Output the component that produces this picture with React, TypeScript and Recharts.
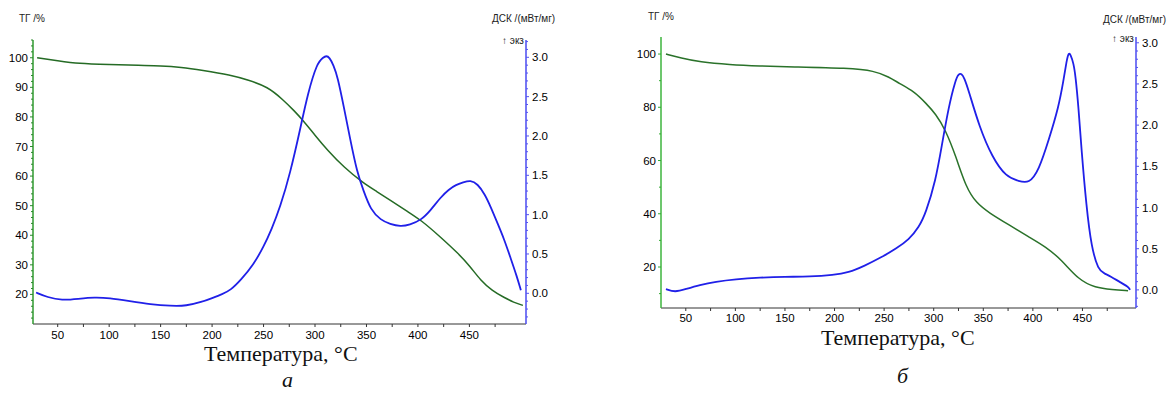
import { LineChart, Line, XAxis, YAxis } from 'recharts'

// panel a: TG (%) and DSC (mW/mg) vs temperature
const tgATemp = [30, 50, 70, 100, 130, 150, 170, 190, 218, 235, 254, 269, 280, 288, 300, 312, 328, 347, 360, 373, 390, 403, 420, 439, 450, 461, 472, 484, 493, 502]
const tgAVal = [100, 99, 98, 97.7, 97.4, 97.3, 96.8, 95.8, 94.2, 92.5, 90.2, 85.8, 82, 79, 73.8, 68.8, 63, 57.6, 54.8, 51.9, 48, 45.1, 40, 33.9, 29.8, 24.7, 21.3, 18.9, 17.3, 16.3]
const dscATemp = [29, 40, 54, 70, 86, 100, 120, 140, 160, 175, 190, 200, 210, 218, 228, 240, 250, 258, 266, 276, 286, 293, 302, 308, 311, 314, 318, 322, 328, 334, 341, 347, 354, 364, 373, 383, 392, 403, 412, 422, 430, 437, 444, 451, 458, 465, 471, 477, 484, 490, 496, 500]
const dscAVal = [0.01, -0.05, -0.09, -0.07, -0.05, -0.06, -0.1, -0.14, -0.16, -0.16, -0.11, -0.06, -0.01, 0.04, 0.17, 0.36, 0.59, 0.82, 1.09, 1.53, 2.11, 2.54, 2.93, 3.0, 3.02, 3.0, 2.9, 2.75, 2.37, 1.97, 1.53, 1.31, 1.06, 0.93, 0.88, 0.85, 0.87, 0.93, 1.05, 1.22, 1.32, 1.38, 1.41, 1.44, 1.39, 1.26, 1.09, 0.9, 0.68, 0.45, 0.22, 0.04]

// panel б
const tgBTemp = [30, 45, 64, 94, 125, 155, 215, 240, 255, 265, 280, 292, 302, 312, 322.5, 332.5, 343, 356, 376, 396, 413, 429, 446, 463, 480, 496]
const tgBVal = [100, 98.5, 97, 96, 95.5, 95.2, 94.7, 93.7, 91.4, 89, 86, 81.6, 77.5, 71.5, 61.4, 50, 44, 40.3, 35.8, 31.3, 27.6, 22.7, 15.2, 12.2, 11.5, 11.1]
const dscBTemp = [30, 39, 50, 64, 80, 100, 125, 150, 175, 199, 214, 230, 248, 262, 275, 285, 292, 302, 308, 315, 322, 325, 328, 331, 335, 346, 359, 373, 386, 396, 406, 416, 426, 431, 434, 436, 438, 441, 443, 446, 449, 454, 459, 466, 472, 479, 487, 496, 498]
const dscBVal = [0.01, -0.03, 0.01, 0.06, 0.1, 0.13, 0.15, 0.16, 0.16, 0.18, 0.21, 0.29, 0.4, 0.5, 0.61, 0.76, 0.93, 1.33, 1.74, 2.22, 2.55, 2.62, 2.63, 2.57, 2.43, 1.98, 1.61, 1.37, 1.32, 1.29, 1.45, 1.82, 2.22, 2.55, 2.78, 2.88, 2.86, 2.75, 2.6, 2.22, 1.7, 1.01, 0.52, 0.24, 0.2, 0.16, 0.1, 0.04, 0.0]

const tempTicks = [50, 75, 100, 125, 150, 175, 200, 225, 250, 275, 300, 325, 350, 375, 400, 425, 450, 475]
const tempLabels = [50, 100, 150, 200, 250, 300, 350, 400, 450]
const tgATicks = [20, 30, 40, 50, 60, 70, 80, 90, 100]
const tgBTicks = [20, 40, 60, 80, 100]
const dscTicks = [0, 0.5, 1.0, 1.5, 2.0, 2.5, 3.0]

const pairs = (t: number[], v: number[]) => t.map((x, i) => ({ t: x, v: v[i] }))

const range = (from: number, to: number, step: number) => {
  const out: number[] = []
  for (let i = 0; from + i * step <= to + 1e-9; i++) out.push(Math.round((from + i * step) * 1000) / 1000)
  return out
}

const LABEL = { fontFamily: 'Liberation Sans, Arial, sans-serif', fontSize: 11.5, fill: '#000' }

const has = (list: number[], v: number) => list.some(l => Math.abs(l - v) < 1e-6)

function xTick(dy: number) {
  return (p: any) => {
    const { x, y, payload } = p
    const major = has(tempLabels, payload.value)
    return (
      <g>
        <line x1={x} x2={x} y1={y} y2={y + 3} stroke="#333" />
        {major && <text x={x} y={y + dy} textAnchor="middle" {...LABEL}>{payload.value}</text>}
      </g>
    )
  }
}

function leftTick(labels: number[], color: string) {
  return (p: any) => {
    const { x, y, payload } = p
    const major = has(labels, payload.value)
    return (
      <g>
        <line x1={x} x2={x - (major ? 3 : 2)} y1={y} y2={y} stroke={color} />
        {major && <text x={x - 5} y={y + 4} textAnchor="end" {...LABEL}>{payload.value}</text>}
      </g>
    )
  }
}

function rightTick(color: string) {
  return (p: any) => {
    const { x, y, payload } = p
    const major = has(dscTicks, payload.value)
    return (
      <g>
        <line x1={x} x2={x + (major ? 3 : 2)} y1={y} y2={y} stroke={color} />
        {major && <text x={x + 6} y={y + 4} textAnchor="start" {...LABEL}>{Number(payload.value).toFixed(1)}</text>}
      </g>
    )
  }
}

const small = { position: 'absolute' as const, fontSize: 10, fontFamily: 'Liberation Sans, Arial, sans-serif', color: '#222', whiteSpace: 'nowrap' as const }
const serif = { position: 'absolute' as const, fontFamily: 'Liberation Serif, Times New Roman, serif', color: '#111', whiteSpace: 'nowrap' as const }

export default function App() {
  return (
    <div style={{ position: 'absolute', left: 0, top: 0, width: 1169, height: 394, background: '#fff', overflow: 'hidden' }}>
      {/* panel a */}
      <div style={{ position: 'absolute', left: 0, top: 0 }}>
        <LineChart width={580} height={346} margin={{ top: 40, right: 0, left: 0, bottom: 0 }}>
          <XAxis type="number" dataKey="t" domain={[26, 505]} allowDataOverflow ticks={tempTicks}
            height={22} tickSize={0} tickMargin={0} interval={0} tick={xTick(15)} axisLine={{ stroke: '#333' }} />
          <YAxis yAxisId="tg" orientation="left" domain={[10, 106]} allowDataOverflow width={33}
            ticks={range(12, 106, 2)} tickSize={0} tickMargin={0} interval={0}
            tick={leftTick(tgATicks, '#2a8a2a')} axisLine={{ stroke: '#2f9a2f', strokeWidth: 1.5 }} />
          <YAxis yAxisId="dsc" orientation="right" domain={[-0.39, 3.22]} allowDataOverflow width={54}
            ticks={range(-0.3, 3.2, 0.1)} tickSize={0} tickMargin={0} interval={0}
            tick={rightTick('#5555f0')} axisLine={{ stroke: '#4a4af0', strokeWidth: 1.5 }} />
          <Line yAxisId="tg" data={pairs(tgATemp, tgAVal)} dataKey="v" type="basis" stroke="#256b25"
            strokeWidth={1.5} dot={false} isAnimationActive={false} />
          <Line yAxisId="dsc" data={pairs(dscATemp, dscAVal)} dataKey="v" type="basis" stroke="#2020e8"
            strokeWidth={1.8} dot={false} isAnimationActive={false} />
        </LineChart>
        <div style={{ ...small, left: 19, top: 13 }}>ТГ /%</div>
        <div style={{ ...small, left: 492, top: 13 }}>ДСК /(мВт/мг)</div>
        <div style={{ ...small, left: 502, top: 35 }}>↑ экз</div>
        <div style={{ ...serif, left: 204, top: 341, fontSize: 22 }}>Температура, °C</div>
        <div style={{ ...serif, left: 282, top: 367, fontSize: 22, fontStyle: 'italic' }}>а</div>
      </div>

      {/* panel б */}
      <div style={{ position: 'absolute', left: 610, top: 0 }}>
        <LineChart width={559} height={330} margin={{ top: 37, right: 0, left: 0, bottom: 0 }}>
          <XAxis type="number" dataKey="t" domain={[25, 504]} allowDataOverflow ticks={tempTicks}
            height={22} tickSize={0} tickMargin={0} interval={0} tick={xTick(14)} axisLine={{ stroke: '#333' }} />
          <YAxis yAxisId="tg" orientation="left" domain={[4.6, 106.4]} allowDataOverflow width={51}
            ticks={range(10, 100, 10)} tickSize={0} tickMargin={0} interval={0}
            tick={leftTick(tgBTicks, '#33aa33')} axisLine={{ stroke: '#3cb43c', strokeWidth: 1.5 }} />
          <YAxis yAxisId="dsc" orientation="right" domain={[-0.22, 3.07]} allowDataOverflow width={33}
            ticks={range(-0.2, 3.0, 0.1)} tickSize={0} tickMargin={0} interval={0}
            tick={rightTick('#5555f0')} axisLine={{ stroke: '#4a4af0', strokeWidth: 1.5 }} />
          <Line yAxisId="tg" data={pairs(tgBTemp, tgBVal)} dataKey="v" type="basis" stroke="#2a722a"
            strokeWidth={1.5} dot={false} isAnimationActive={false} />
          <Line yAxisId="dsc" data={pairs(dscBTemp, dscBVal)} dataKey="v" type="basis" stroke="#2020e8"
            strokeWidth={1.8} dot={false} isAnimationActive={false} />
        </LineChart>
        <div style={{ ...small, left: 38, top: 11 }}>ТГ /%</div>
        <div style={{ ...small, left: 493, top: 14 }}>ДСК /(мВт/мг)</div>
        <div style={{ ...small, left: 502, top: 33 }}>↑ экз</div>
        <div style={{ ...serif, left: 211, top: 325, fontSize: 22 }}>Температура, °C</div>
        <div style={{ ...serif, left: 287, top: 363, fontSize: 22, fontStyle: 'italic' }}>б</div>
      </div>
    </div>
  )
}
